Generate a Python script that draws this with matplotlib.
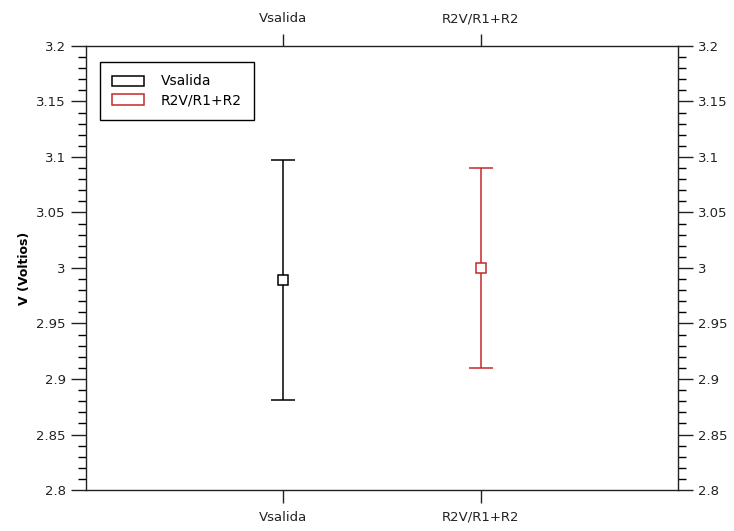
import matplotlib
matplotlib.use('Agg')
import matplotlib.pyplot as plt
from matplotlib.patches import Patch
from matplotlib.ticker import MultipleLocator

# Datos
categorias = ['Vsalida', 'R2V/R1+R2']
valores = [2.989, 3.000]
errores = [0.108, 0.090]
colores = ['black', '#c62828']

fig = plt.figure(figsize=(7.34, 5.31), dpi=100)
ax = fig.add_axes([0.1172, 0.0772, 0.8065, 0.8362])

posiciones = [1, 2]
for x, v, e, c in zip(posiciones, valores, errores, colores):
    ax.errorbar(x, v, yerr=e, fmt='s', color=c, mfc='white', mec=c,
                markersize=7, mew=1.1, capsize=8.5, elinewidth=1.1, capthick=1.1)

ax.set_xlim(0, 3)
ax.set_ylim(2.8, 3.2)
ax.set_xticks(posiciones)
ax.set_xticklabels(categorias)
ax.yaxis.set_major_locator(MultipleLocator(0.05))
ax.yaxis.set_minor_locator(MultipleLocator(0.01))
ax.set_yticklabels([f'{t:g}' for t in ax.get_yticks()])

ax.tick_params(axis='x', which='major', direction='out', length=9, width=1,
               top=True, labeltop=True, labelsize=9.5, pad=6, colors='#222222')
ax.tick_params(axis='y', which='major', direction='out', length=11, width=1,
               right=True, labelright=True, labelsize=9.5, colors='#222222')
ax.tick_params(axis='y', which='minor', direction='out', length=6, width=1,
               right=True)
for s in ax.spines.values():
    s.set_linewidth(1)
    s.set_color('#222222')

ax.set_ylabel('V (Voltios)', fontweight='bold', fontsize=9)

handles = [Patch(facecolor='none', edgecolor=c, linewidth=1.1) for c in colores]
leg = ax.legend(handles, categorias, loc='upper left', fontsize=10,
                bbox_to_anchor=(0.0236, 0.964), fancybox=False, framealpha=1,
                edgecolor='black', handlelength=2.3, handleheight=0.75,
                handletextpad=1.15, borderpad=0.9, labelspacing=0.35,
                borderaxespad=0)
leg.get_frame().set_linewidth(1)

plt.savefig('out.png', dpi=100)
